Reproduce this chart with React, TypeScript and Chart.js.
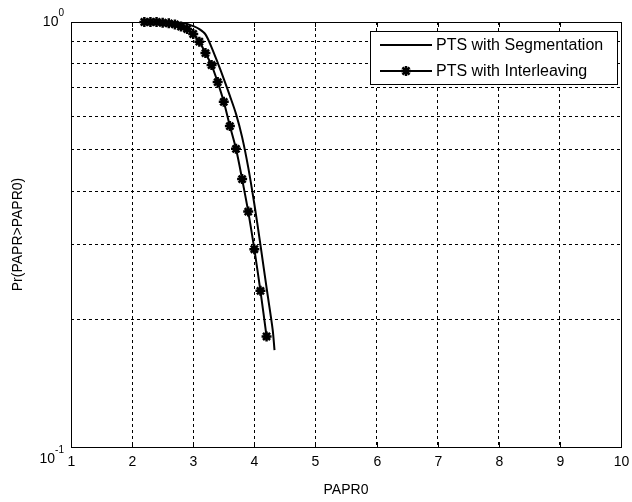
import React, { useEffect, useRef } from 'react';
import { Chart, registerables } from 'chart.js';

Chart.register(...registerables);

// ---- data ----
const seriesLabels = ['PTS with Segmentation', 'PTS with Interleaving'];

const xSegmentation = [2.2, 2.3, 2.4, 2.5, 2.6, 2.7, 2.8, 2.9, 3.0, 3.1, 3.2, 3.3, 3.4, 3.5, 3.6, 3.7, 3.8, 3.9, 4.0, 4.1, 4.2, 4.3, 4.33];
const ySegmentation = [1.0, 1.0, 1.0, 0.999, 0.998, 0.997, 0.995, 0.99, 0.978, 0.962, 0.935, 0.872, 0.802, 0.735, 0.67, 0.608, 0.536, 0.455, 0.373, 0.299, 0.237, 0.189, 0.169];

const xInterleaving = [2.2, 2.3, 2.4, 2.5, 2.6, 2.7, 2.8, 2.9, 3.0, 3.1, 3.2, 3.3, 3.4, 3.5, 3.6, 3.7, 3.8, 3.9, 4.0, 4.1, 4.2];
const yInterleaving = [1.0, 1.0, 1.0, 0.996, 0.993, 0.987, 0.976, 0.963, 0.937, 0.899, 0.845, 0.792, 0.722, 0.649, 0.569, 0.503, 0.427, 0.358, 0.292, 0.233, 0.182];

const xTicks = [1, 2, 3, 4, 5, 6, 7, 8, 9, 10];
const xTickLabels = ['1', '2', '3', '4', '5', '6', '7', '8', '9', '10'];
const yGridValues = [0.1, 0.2, 0.3, 0.4, 0.5, 0.6, 0.7, 0.8, 0.9, 1];
const yTickValues = [0.1, 1];
const yTickBase = ['10', '10'];
const yTickExp = ['-1', '0'];
const xTitle = 'PAPR0';
const yTitle = 'Pr(PAPR>PAPR0)';

const FONT = '"Liberation Sans", Arial, sans-serif';

function drawStar(ctx: CanvasRenderingContext2D, cx: number, cy: number, r: number) {
  ctx.beginPath();
  for (let i = 0; i < 4; i++) {
    const a = (i * Math.PI) / 4;
    ctx.moveTo(cx + Math.cos(a) * r, cy + Math.sin(a) * r);
    ctx.lineTo(cx - Math.cos(a) * r, cy - Math.sin(a) * r);
  }
  ctx.stroke();
}

const decorPlugin = {
  id: 'matlabDecor',
  afterDraw(chart: any) {
    const { ctx, chartArea: a, scales } = chart;
    const xs = scales.x;
    const ys = scales.y;
    ctx.save();
    ctx.setLineDash([]);
    ctx.strokeStyle = '#000';
    ctx.fillStyle = '#000';
    ctx.lineWidth = 1;
    // frame
    ctx.strokeRect(Math.round(a.left) + 0.5, Math.round(a.top) + 0.5, Math.round(a.right - a.left), Math.round(a.bottom - a.top));
    // x ticks
    ctx.font = `14px ${FONT}`;
    ctx.textAlign = 'center';
    ctx.textBaseline = 'top';
    xTicks.forEach((v, i) => {
      const px = Math.round(xs.getPixelForValue(v)) + 0.5;
      ctx.beginPath();
      ctx.moveTo(px, a.bottom);
      ctx.lineTo(px, a.bottom - 5);
      ctx.moveTo(px, a.top);
      ctx.lineTo(px, a.top + 5);
      ctx.stroke();
      ctx.fillText(xTickLabels[i], px, a.bottom + 8);
    });
    // y ticks
    yTickValues.forEach((v, i) => {
      const py = Math.round(ys.getPixelForValue(v)) + 0.5;
      ctx.beginPath();
      ctx.moveTo(a.left, py);
      ctx.lineTo(a.left + 5, py);
      ctx.moveTo(a.right, py);
      ctx.lineTo(a.right - 5, py);
      ctx.stroke();
      const baseOff = i === 0 ? 15 : 3;
      ctx.font = `10px ${FONT}`;
      const ew = ctx.measureText(yTickExp[i]).width;
      const rightEdge = a.left - 7;
      ctx.textAlign = 'left';
      ctx.textBaseline = 'alphabetic';
      ctx.fillText(yTickExp[i], rightEdge - ew, py + baseOff - 10);
      ctx.font = `14px ${FONT}`;
      ctx.textAlign = 'right';
      ctx.fillText(yTickBase[i], rightEdge - ew, py + baseOff);
    });
    // axis titles
    ctx.font = `14px ${FONT}`;
    ctx.textAlign = 'center';
    ctx.textBaseline = 'middle';
    ctx.fillText(xTitle, (a.left + a.right) / 2, a.bottom + 43);
    ctx.save();
    ctx.translate(18, (a.top + a.bottom) / 2);
    ctx.rotate(-Math.PI / 2);
    ctx.fillText(yTitle, 0, 0);
    ctx.restore();
    // legend
    const lx = 370, ly = 31, lw = 247, lh = 53;
    ctx.fillStyle = '#fff';
    ctx.fillRect(lx, ly, lw, lh);
    ctx.strokeStyle = '#000';
    ctx.lineWidth = 1;
    ctx.strokeRect(lx + 0.5, ly + 0.5, lw, lh);
    const rows = [ly + 14, ly + 40];
    rows.forEach((ry, i) => {
      ctx.lineWidth = 2;
      ctx.beginPath();
      ctx.moveTo(lx + 10, ry);
      ctx.lineTo(lx + 62, ry);
      ctx.stroke();
      if (i === 1) {
        ctx.lineWidth = 2.5;
        drawStar(ctx, lx + 36, ry, 5);
      }
      ctx.fillStyle = '#000';
      ctx.font = `16px ${FONT}`;
      ctx.textAlign = 'left';
      ctx.textBaseline = 'middle';
      ctx.fillText(seriesLabels[i], lx + 66, ry + 1);
    });
    ctx.restore();
  },
};

export default function App() {
  const ref = useRef<HTMLCanvasElement | null>(null);
  useEffect(() => {
    if (!ref.current) return;
    const gridCommon = {
      color: '#000',
      lineWidth: 1,
      drawTicks: false,
    };
    const chart = new Chart(ref.current, {
      type: 'scatter',
      data: {
        datasets: [
          {
            label: seriesLabels[0],
            data: xSegmentation.map((x, i) => ({ x, y: ySegmentation[i] })),
            showLine: true,
            borderColor: '#000',
            borderWidth: 2,
            pointRadius: 0,
            tension: 0.3,
            clip: false,
          },
          {
            label: seriesLabels[1],
            data: xInterleaving.map((x, i) => ({ x, y: yInterleaving[i] })),
            showLine: true,
            borderColor: '#000',
            backgroundColor: '#000',
            borderWidth: 2,
            pointStyle: 'star',
            pointRadius: 5,
            pointBorderWidth: 2.5,
            pointBorderColor: '#000',
            tension: 0.3,
            clip: false,
          },
        ],
      } as any,
      options: {
        animation: false,
        responsive: false,
        devicePixelRatio: 1,
        layout: { padding: { left: 71, right: 11, top: 22, bottom: 55 } },
        plugins: { legend: { display: false }, tooltip: { enabled: false } },
        scales: {
          x: {
            type: 'linear',
            min: 1,
            max: 10,
            ticks: { display: false, stepSize: 1 },
            grid: gridCommon,
            border: { display: false, dash: [3, 3] },
          },
          y: {
            type: 'logarithmic',
            min: 0.1,
            max: 1,
            ticks: { display: false },
            afterBuildTicks: (scale: any) => {
              scale.ticks = yGridValues.map((v) => ({ value: v }));
            },
            grid: gridCommon,
            border: { display: false, dash: [3, 3] },
          },
        },
      } as any,
      plugins: [decorPlugin],
    });
    return () => chart.destroy();
  }, []);
  return (
    <div style={{ position: 'fixed', left: 0, top: 0, width: 632, height: 502, background: '#fff' }}>
      <canvas ref={ref} width={632} height={502} style={{ display: 'block' }} />
    </div>
  );
}
